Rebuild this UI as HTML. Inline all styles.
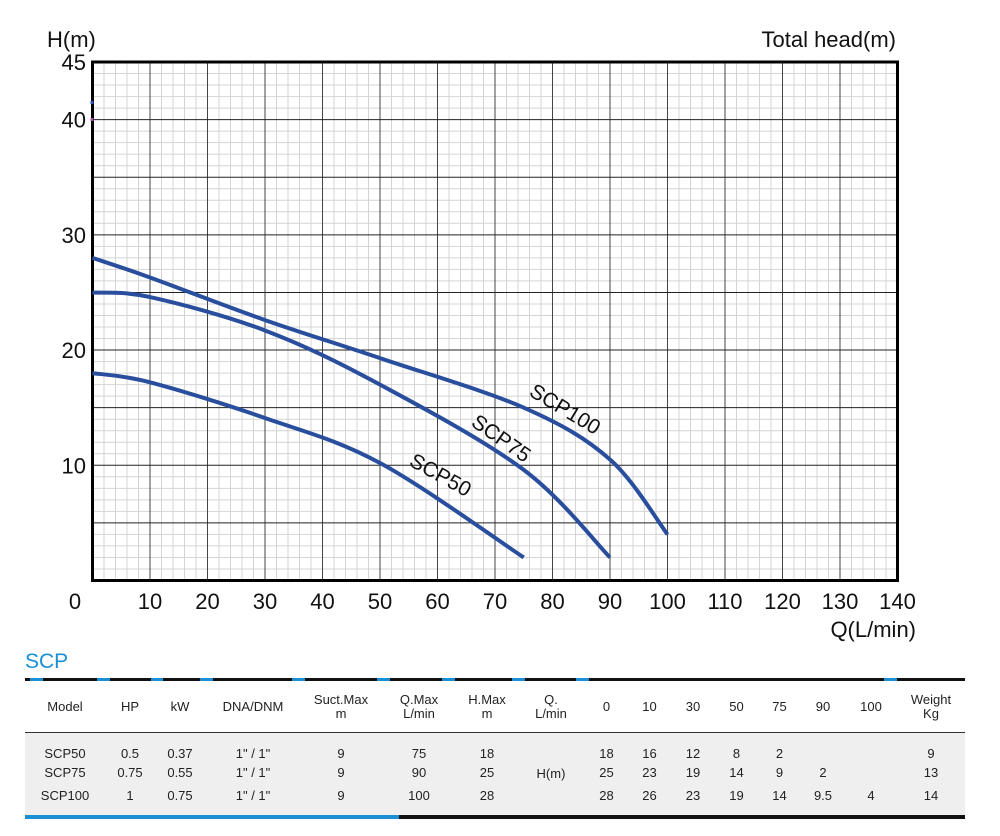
<!DOCTYPE html>
<html><head><meta charset="utf-8"><style>
body{margin:0;background:#fff;font-family:"Liberation Sans",Arial,sans-serif}
#wrap{position:relative;width:1000px;height:836px;overflow:hidden}
svg{position:absolute;left:0;top:0}
table{position:absolute;left:25px;top:681px;width:940px;border-collapse:collapse;font-size:13px;color:#222;table-layout:fixed}
td,th{text-align:center;padding:0;font-weight:normal;line-height:14px}
thead th{height:51px;border-bottom:1.5px solid #333}
tbody tr{height:24px;background:#efefef}
</style></head><body>
<div id="wrap">
<svg id="chart" width="1000" height="836"></svg>
<table>
<colgroup><col style="width:80px"><col style="width:50px"><col style="width:50px"><col style="width:96px"><col style="width:80px"><col style="width:76px"><col style="width:60px"><col style="width:68px"><col style="width:43px"><col style="width:43px"><col style="width:44px"><col style="width:43px"><col style="width:43px"><col style="width:44px"><col style="width:52px"><col style="width:68px"></colgroup>
<thead><tr><th>Model</th><th>HP</th><th>kW</th><th>DNA/DNM</th><th>Suct.Max<br>m</th><th>Q.Max<br>L/min</th><th>H.Max<br>m</th><th>Q.<br>L/min</th><th>0</th><th>10</th><th>30</th><th>50</th><th>75</th><th>90</th><th>100</th><th>Weight<br>Kg</th></tr></thead>
<tbody>
<tr style="height:28px;vertical-align:bottom"><td>SCP50</td><td>0.5</td><td>0.37</td><td>1" / 1"</td><td>9</td><td>75</td><td>18</td><td rowspan="3" style="vertical-align:middle">H(m)</td><td>18</td><td>16</td><td>12</td><td>8</td><td>2</td><td></td><td></td><td>9</td></tr>
<tr><td>SCP75</td><td>0.75</td><td>0.55</td><td>1" / 1"</td><td>9</td><td>90</td><td>25</td><td>25</td><td>23</td><td>19</td><td>14</td><td>9</td><td>2</td><td></td><td>13</td></tr>
<tr style="height:30px;vertical-align:top"><td style="padding-top:4px">SCP100</td><td style="padding-top:4px">1</td><td style="padding-top:4px">0.75</td><td style="padding-top:4px">1" / 1"</td><td style="padding-top:4px">9</td><td style="padding-top:4px">100</td><td style="padding-top:4px">28</td><td style="padding-top:4px">28</td><td style="padding-top:4px">26</td><td style="padding-top:4px">23</td><td style="padding-top:4px">19</td><td style="padding-top:4px">14</td><td style="padding-top:4px">9.5</td><td style="padding-top:4px">4</td><td style="padding-top:4px">14</td></tr>
</tbody></table>
</div>
<script>
const xTicks=[0,10,20,30,40,50,60,70,80,90,100,110,120,130,140];
const yTicks=[10,20,30,40,45];
const flowScp50=[0,10,30,50,75];
const headScp50=[18,17.2,14.1,10.2,2];
const flowScp75=[0,10,30,50,75,90];
const headScp75=[25,24.6,21.7,17,9.6,2];
const flowScp100=[0,10,30,50,75,90,100];
const headScp100=[28,26.3,22.6,19.3,15,10.5,4];
const NS="http://www.w3.org/2000/svg";
const svg=document.getElementById('chart');
const X0=92.5,X1=897.5,Y0=580.5,Y1=62;
const sx=v=>X0+(v/140)*(X1-X0);
const sy=v=>Y0-(v/45)*(Y0-Y1);
function mk(t,a,p){const e=document.createElementNS(NS,t);for(const k in a)e.setAttribute(k,a[k]);(p||svg).appendChild(e);return e;}
const grid=mk('g',{});


for(let v=0;v<=140;v+=2){if(v%10===0)continue;mk('line',{x1:sx(v),x2:sx(v),y1:Y1,y2:Y0,stroke:'#d4d4d4','stroke-width':1},grid);}
for(let v=0;v<=45;v+=1){if(v%5===0)continue;mk('line',{x1:X0,x2:X1,y1:sy(v),y2:sy(v),stroke:'#d4d4d4','stroke-width':1},grid);}
for(let v=10;v<140;v+=10)mk('line',{x1:sx(v),x2:sx(v),y1:Y1,y2:Y0,stroke:'#444','stroke-width':1},grid);
for(let v=5;v<45;v+=5)mk('line',{x1:X0,x2:X1,y1:sy(v),y2:sy(v),stroke:'#222','stroke-width':1},grid);
const frame=mk('rect',{x:X0,y:Y1,width:X1-X0,height:Y0-Y1,fill:'none',stroke:'#000','stroke-width':3});


mk('rect',{x:X0-2,y:101,width:3,height:3,fill:'#3355bb'});
mk('rect',{x:X0-2,y:118,width:3,height:3,fill:'#aa55aa'});
function txt(s,x,y,o){const e=mk('text',Object.assign({x:x,y:y,'font-size':22,fill:'#111','font-family':'Liberation Sans, Arial, sans-serif'},o||{}));e.textContent=s;return e;}
xTicks.forEach(v=>{const t=txt(String(v),v===0?75:sx(v),609,{'text-anchor':'middle'});

});
yTicks.forEach(v=>{const t=txt(String(v),86,sy(v)+8,{'text-anchor':'end'});

});
const t0=txt('0',86,609,{'text-anchor':'end','opacity':0});
let a=txt('H(m)',47,47);
a=txt('Total head(m)',896,47,{'text-anchor':'end'});
a=txt('Q(L/min)',916,637,{'text-anchor':'end'});
function curve(xs,ys){const p=xs.map((x,i)=>[sx(x),sy(ys[i])]);let d='M'+p[0][0]+','+p[0][1];
for(let i=0;i<p.length-1;i++){const p0=p[i-1]||p[i],p1=p[i],p2=p[i+1],p3=p[i+2]||p2;
const c1=[p1[0]+(p2[0]-p0[0])/6,p1[1]+(p2[1]-p0[1])/6],c2=[p2[0]-(p3[0]-p1[0])/6,p2[1]-(p3[1]-p1[1])/6];
d+=' C'+c1+' '+c2+' '+p2;}return d;}
[[flowScp50,headScp50,'curve-scp50'],[flowScp75,headScp75,'curve-scp75'],[flowScp100,headScp100,'curve-scp100']].forEach(s=>{
const e=mk('path',{d:curve(s[0],s[1]),fill:'none',stroke:'#2a4e9e','stroke-width':4,'stroke-linecap':'butt'});

});
[['SCP100',528,395,31],['SCP75',470,425,35],['SCP50',408,465,29]].forEach(l=>{
const e=txt(l[0],l[1],l[2],{transform:'rotate('+l[3]+' '+l[1]+' '+l[2]+')','font-size':21});

});
a=txt('SCP',25,668,{fill:'#1a8fd6','font-size':21});
// table rules
mk('rect',{x:25,y:678,width:940,height:3,fill:'#111'});
[[30,43],[97,110],[151,163],[200,213],[292,305],[377,390],[442,455],[512,525],[576,589],[884,897]].forEach(s=>mk('rect',{x:s[0],y:678,width:s[1]-s[0],height:3,fill:'#1a8fd6'}));
mk('rect',{x:25,y:815,width:940,height:4,fill:'#111'});
mk('rect',{x:25,y:815,width:374,height:4,fill:'#1a8fd6'});
</script>
</body></html>
